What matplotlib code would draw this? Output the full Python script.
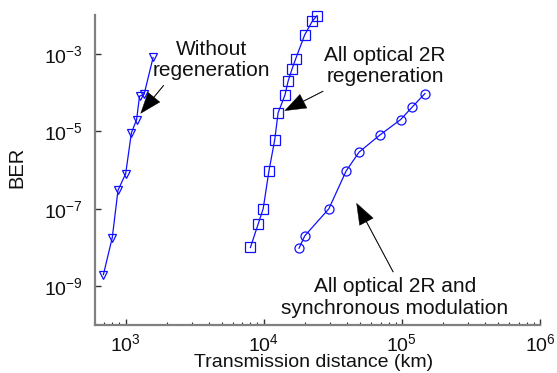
import matplotlib

matplotlib.use("Agg")
import matplotlib.pyplot as plt
from matplotlib.ticker import LogLocator, NullLocator

plt.rcParams["font.family"] = ["Liberation Sans", "DejaVu Sans"]
plt.rcParams["mathtext.default"] = "regular"

# Data (distance in km, BER)
no_regen_km = [690, 800, 880, 1000, 1100, 1200, 1260, 1360, 1580]
no_regen_ber = [2e-9, 1.8e-8, 3e-7, 8e-7, 9e-6, 2e-5, 8e-5, 9e-5, 8e-4]

regen_2r_km = [8000, 9100, 9900, 10900, 12000, 12700, 14200, 15000, 16000, 17000, 19800, 22500, 24300]
regen_2r_ber = [1e-8, 4e-8, 1e-7, 9.5e-7, 6e-6, 3e-5, 8.4e-5, 1.95e-4, 4e-4, 7.3e-4, 3.1e-3, 7e-3, 9.6e-3]

sync_mod_km = [18000, 19800, 29600, 39500, 49000, 69300, 97900, 118700, 146800]
sync_mod_ber = [9.6e-9, 2e-8, 1e-7, 9.5e-7, 2.9e-6, 8e-6, 2e-5, 4.2e-5, 9.4e-5]

blue = "#1010ff"
axis_gray = "#808080"
fs = 15

fig = plt.figure(figsize=(5.57, 3.73), dpi=100)
ax = fig.add_axes([0.1706, 0.1287, 0.7989, 0.8311])
ax.set_xscale("log")
ax.set_yscale("log")
ax.set_xlim(600, 1e6)
ax.set_ylim(1e-10, 1e-2)

marker_kw = dict(color=blue, linewidth=0.9, markerfacecolor="none", markeredgecolor=blue,
                 markeredgewidth=0.9, clip_on=False)
ax.plot(no_regen_km, no_regen_ber, marker="v", markersize=5.5, **marker_kw)
ax.plot(regen_2r_km, regen_2r_ber, marker="s", markersize=6.5, **marker_kw)
ax.plot(sync_mod_km, sync_mod_ber, marker="o", markersize=6.5, **marker_kw)

# Axes styling: only left and bottom spines, ticks inward
for side in ("top", "right"):
    ax.spines[side].set_visible(False)
for side in ("left", "bottom"):
    ax.spines[side].set_color(axis_gray)
    ax.spines[side].set_linewidth(1.6)

ax.set_yticks([1e-9, 1e-7, 1e-5, 1e-3])
ax.yaxis.set_minor_locator(NullLocator())
ax.set_xticks([1e3, 1e4, 1e5, 1e6])
ax.xaxis.set_minor_locator(LogLocator(base=10, subs=range(2, 10), numticks=20))
ax.tick_params(axis="both", which="major", direction="in", length=4, width=1.0,
               color="#333333", labelsize=14, labelcolor="#111111")
ax.tick_params(axis="x", which="major", pad=6)
ax.tick_params(axis="y", which="major", pad=9)
ax.tick_params(axis="x", which="minor", direction="in", length=2.5, width=0.8, color="#333333")

ax.set_xlabel("Transmission distance (km)", fontsize=14, color="#111111", va="center")
ax.xaxis.set_label_coords(0.492, -0.122)
ax.set_ylabel("BER", fontsize=14.5, color="#111111", va="center")
ax.yaxis.set_label_coords(-0.176, 0.51)

arrow_kw = dict(facecolor="black", edgecolor="black", width=0.4, headwidth=11,
                headlength=15, shrink=0.0, linewidth=0.3)

ax.annotate("", xy=(1285, 2.9e-5), xytext=(1884, 1.53e-4), arrowprops=arrow_kw)
ax.text(4200, 6.9e-4, "Without\nregeneration", ha="center", va="center",
        fontsize=fs, linespacing=1.15, color="#111111")

ax.annotate("", xy=(14200, 3.4e-5), xytext=(26900, 1.08e-4), arrowprops=arrow_kw)
ax.text(75300, 4.8e-4, "All optical 2R\nregeneration", ha="center", va="center",
        fontsize=fs, linespacing=1.15, color="#111111")

ax.annotate("", xy=(47000, 1.38e-7), xytext=(86500, 2.33e-9), arrowprops=arrow_kw)
ax.text(88900, 5.1e-10, "All optical 2R and\nsynchronous modulation", ha="center",
        va="center", fontsize=fs, linespacing=1.15, color="#111111")

fig.savefig("out.png", dpi=100)
